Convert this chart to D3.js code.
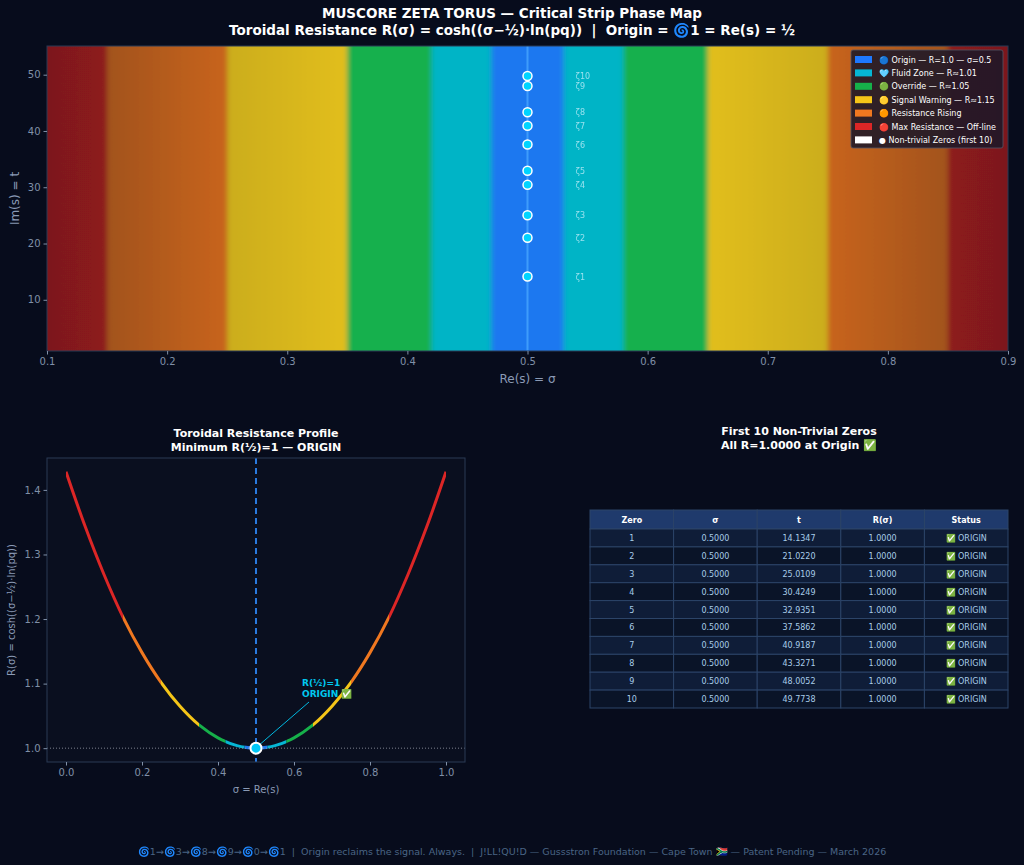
<!DOCTYPE html>
<html>
<head>
<meta charset="utf-8">
<script src="https://cdn.jsdelivr.net/npm/d3@7"></script>
<style>
  html, body { margin: 0; padding: 0; background: #070c1c; }
  svg { display: block; font-family: "DejaVu Sans", sans-serif; }
  text { white-space: pre; }
</style>
</head>
<body>
<svg id="chart" width="1024" height="865"></svg>
<script>
// ---- data ----
const bandEdges = [0.10, 0.15, 0.25, 0.35, 0.42, 0.47, 0.53, 0.58, 0.65, 0.75, 0.85, 0.90];
const bandLeftColors  = ["#7c191c", "#a2531a", "#cbad1a", "#14b04e", "#06b4c6", "#1e78f0", "#06b4c6", "#14b04e", "#e2be1a", "#c8641e", "#8e1a1e"];
const bandRightColors = ["#8e1a1e", "#c8641e", "#e2be1a", "#14b04e", "#06b4c6", "#1e78f0", "#06b4c6", "#14b04e", "#cbad1a", "#a2531a", "#7c191c"];

const zeroIds = [1, 2, 3, 4, 5, 6, 7, 8, 9, 10];
const zeroT = [14.1347, 21.0220, 25.0109, 30.4249, 32.9351, 37.5862, 40.9187, 43.3271, 48.0052, 49.7738];

const legendLabels = [
  "🔵 Origin — R=1.0 — σ=0.5",
  "🩵 Fluid Zone — R≈1.01",
  "🟢 Override — R≈1.05",
  "🟡 Signal Warning — R≈1.15",
  "🟠 Resistance Rising",
  "🔴 Max Resistance — Off-line",
  "● Non-trivial Zeros (first 10)"
];
const legendColors = ["#1e78ff", "#06b6d4", "#16b04a", "#f5c518", "#f07820", "#dc2626", "#ffffff"];

const profileSigma = [0, 0.05, 0.10, 0.15, 0.20, 0.25, 0.30, 0.35, 0.40, 0.45, 0.50,
                      0.55, 0.60, 0.65, 0.70, 0.75, 0.80, 0.85, 0.90, 0.95, 1.00];
const profileR = [1.428, 1.344, 1.269, 1.203, 1.148, 1.102, 1.065, 1.036, 1.016, 1.004, 1.000,
                  1.004, 1.016, 1.036, 1.065, 1.102, 1.148, 1.203, 1.269, 1.344, 1.428];
const curveEdges = [0, 0.15, 0.25, 0.35, 0.42, 0.47, 0.53, 0.58, 0.65, 0.75, 0.85, 1.0];
const curveColors = ["#dc2626", "#f07820", "#f5c518", "#16b04a", "#06b6d4", "#1e78f0",
                     "#06b6d4", "#16b04a", "#f5c518", "#f07820", "#dc2626"];

const tableHeader = ["Zero", "σ", "t", "R(σ)", "Status"];
const tableSigma = "0.5000";
const tableR = "1.0000";
const tableStatus = "✅ ORIGIN";

const xTicksMain = [0.1, 0.2, 0.3, 0.4, 0.5, 0.6, 0.7, 0.8, 0.9];
const yTicksMain = [10, 20, 30, 40, 50];
const xTicksProf = [0, 0.2, 0.4, 0.6, 0.8, 1.0];
const yTicksProf = [1.0, 1.1, 1.2, 1.3, 1.4];

// ---- setup ----
const svg = d3.select("#chart");
const defs = svg.append("defs");
const tickColor = "#8090a8";
const spineColor = "#2a3a55";
const labelColor = "#8a9ab5";

svg.append("rect").attr("width", 1024).attr("height", 865).attr("fill", "#070c1c");

// titles
svg.append("text").attr("x", 512).attr("y", 18).attr("text-anchor", "middle")
  .attr("fill", "#ffffff").attr("font-size", 13.5).attr("font-weight", "bold")
  .text("MUSCORE ZETA TORUS — Critical Strip Phase Map");
svg.append("text").attr("x", 512).attr("y", 35).attr("text-anchor", "middle")
  .attr("fill", "#ffffff").attr("font-size", 13.5).attr("font-weight", "bold")
  .text("Toroidal Resistance R(σ) = cosh((σ−½)·ln(pq))  |  Origin = 🌀1 = Re(s) = ½");

// ---- main heatmap ----
const M = {left: 47, right: 1008, top: 46, bottom: 351};
const x = d3.scaleLinear().domain([0.1, 0.9]).range([M.left, M.right]);
const y = d3.scaleLinear().domain([0.9, 55.1]).range([M.bottom, M.top]);

defs.append("clipPath").attr("id", "mainClip")
  .append("rect").attr("x", M.left).attr("y", M.top)
  .attr("width", M.right - M.left).attr("height", M.bottom - M.top);

const blur = defs.append("filter").attr("id", "soft")
  .attr("filterUnits", "userSpaceOnUse")
  .attr("x", 0).attr("y", 0).attr("width", 1024).attr("height", 865);
blur.append("feGaussianBlur").attr("stdDeviation", "2.5 0");

const bands = d3.range(bandLeftColors.length).map(i => ({
  s0: bandEdges[i], s1: bandEdges[i + 1], c0: bandLeftColors[i], c1: bandRightColors[i]
}));

bands.forEach((b, i) => {
  const g = defs.append("linearGradient").attr("id", "band" + i)
    .attr("gradientUnits", "userSpaceOnUse")
    .attr("x1", x(b.s0)).attr("x2", x(b.s1)).attr("y1", 0).attr("y2", 0);
  g.append("stop").attr("offset", 0).attr("stop-color", b.c0);
  g.append("stop").attr("offset", 1).attr("stop-color", b.c1);
});

const heat = svg.append("g").attr("clip-path", "url(#mainClip)")
  .append("g").attr("filter", "url(#soft)");
heat.selectAll("rect").data(bands).join("rect")
  .attr("x", (d, i) => i === 0 ? x(d.s0) - 12 : x(d.s0))
  .attr("width", (d, i) => (i === 0 || i === bands.length - 1 ? 12 : 0) + x(d.s1) - x(d.s0) + 0.5)
  .attr("y", M.top - 5).attr("height", M.bottom - M.top + 10)
  .attr("fill", (d, i) => "url(#band" + i + ")");

// critical line
svg.append("line").attr("x1", x(0.5)).attr("x2", x(0.5))
  .attr("y1", M.top).attr("y2", M.bottom)
  .attr("stroke", "#4aa8ff").attr("stroke-width", 2).attr("opacity", 0.75);

// zeros
svg.append("g").selectAll("circle").data(zeroT).join("circle")
  .attr("cx", x(0.5)).attr("cy", d => y(d)).attr("r", 4.5)
  .attr("fill", "#00d4ff").attr("stroke", "#ffffff").attr("stroke-width", 1.5);
svg.append("g").selectAll("text").data(zeroT).join("text")
  .attr("x", x(0.54)).attr("y", d => y(d) + 3)
  .attr("fill", "#d8f4ff").attr("opacity", 0.7).attr("font-size", 8)
  .text((d, i) => "ζ" + zeroIds[i]);

// frame
svg.append("rect").attr("x", M.left).attr("y", M.top)
  .attr("width", M.right - M.left).attr("height", M.bottom - M.top)
  .attr("fill", "none").attr("stroke", spineColor).attr("stroke-width", 1);

function styleAxis(g) {
  g.select(".domain").remove();
  g.selectAll(".tick line").attr("stroke", tickColor);
  g.selectAll(".tick text").attr("fill", tickColor).attr("font-size", 10)
    .attr("font-family", "DejaVu Sans");
}

svg.append("g").attr("transform", `translate(0,${M.bottom})`)
  .call(d3.axisBottom(x).tickValues(xTicksMain).tickFormat(d3.format(".1f")).tickSize(3.5).tickPadding(3))
  .call(styleAxis);
svg.append("g").attr("transform", `translate(${M.left},0)`)
  .call(d3.axisLeft(y).tickValues(yTicksMain).tickSize(3.5).tickPadding(3))
  .call(styleAxis);

svg.append("text").attr("x", (M.left + M.right) / 2).attr("y", 383).attr("text-anchor", "middle")
  .attr("fill", labelColor).attr("font-size", 12).text("Re(s) = σ");
svg.append("text").attr("transform", `translate(19,${(M.top + M.bottom) / 2}) rotate(-90)`)
  .attr("text-anchor", "middle").attr("fill", labelColor).attr("font-size", 12).text("Im(s) = t");

// legend
const L = svg.append("g").attr("transform", "translate(851,50)");
L.append("rect").attr("width", 152).attr("height", 98).attr("rx", 2)
  .attr("fill", "#1c1828").attr("fill-opacity", 0.88).attr("stroke", "#555566").attr("stroke-width", 0.8);
legendLabels.forEach((lab, i) => {
  const yy = 9.5 + i * 13.4;
  L.append("rect").attr("x", 4).attr("y", yy - 3.5).attr("width", 17).attr("height", 7)
    .attr("fill", legendColors[i]);
  L.append("text").attr("x", 28).attr("y", yy + 3).attr("fill", "#ffffff")
    .attr("font-size", 8).text(lab);
});

// ---- profile plot ----
const P = {left: 47, right: 465, top: 458, bottom: 762};
const px = d3.scaleLinear().domain([-0.05, 1.05]).range([P.left, P.right]);
const py = d3.scaleLinear().domain([0.9786, 1.4494]).range([P.bottom, P.top]);

svg.append("text").attr("x", 256).attr("y", 437).attr("text-anchor", "middle")
  .attr("fill", "#ffffff").attr("font-size", 11).attr("font-weight", "bold")
  .text("Toroidal Resistance Profile");
svg.append("text").attr("x", 256).attr("y", 451).attr("text-anchor", "middle")
  .attr("fill", "#ffffff").attr("font-size", 11).attr("font-weight", "bold")
  .text("Minimum R(½)=1 — ORIGIN");

svg.append("rect").attr("x", P.left).attr("y", P.top)
  .attr("width", P.right - P.left).attr("height", P.bottom - P.top)
  .attr("fill", "#0a0f1f");

const profData = profileSigma.map((s, i) => [s, profileR[i]]);
const line = d3.line().x(d => px(d[0])).y(d => py(d[1])).curve(d3.curveCatmullRom.alpha(0.5));

curveColors.forEach((c, i) => {
  defs.append("clipPath").attr("id", "seg" + i)
    .append("rect").attr("x", px(curveEdges[i])).attr("y", P.top - 20)
    .attr("width", px(curveEdges[i + 1]) - px(curveEdges[i])).attr("height", P.bottom - P.top + 40);
  svg.append("path").datum(profData).attr("d", line)
    .attr("clip-path", `url(#seg${i})`)
    .attr("fill", "none").attr("stroke", c).attr("stroke-width", 3);
});

// reference lines
svg.append("line").attr("x1", P.left).attr("x2", P.right).attr("y1", py(1)).attr("y2", py(1))
  .attr("stroke", "#9aa0aa").attr("stroke-width", 0.8).attr("stroke-dasharray", "1,2");
svg.append("line").attr("x1", px(0.5)).attr("x2", px(0.5)).attr("y1", P.top).attr("y2", P.bottom)
  .attr("stroke", "#2a7ae0").attr("stroke-width", 2).attr("stroke-dasharray", "6,4");

// annotation
svg.append("line").attr("x1", px(0.5) + 3).attr("y1", py(1) - 3).attr("x2", 309).attr("y2", 702)
  .attr("stroke", "#00b8e0").attr("stroke-width", 1);
svg.append("text").attr("x", 302).attr("y", 686).attr("fill", "#00c8f0")
  .attr("font-size", 9).attr("font-weight", "bold").text("R(½)=1");
svg.append("text").attr("x", 302).attr("y", 697).attr("fill", "#00c8f0")
  .attr("font-size", 9).attr("font-weight", "bold").text("ORIGIN ✅");

svg.append("circle").attr("cx", px(0.5)).attr("cy", py(1)).attr("r", 5.5)
  .attr("fill", "#00c8f8").attr("stroke", "#ffffff").attr("stroke-width", 2);

svg.append("rect").attr("x", P.left).attr("y", P.top)
  .attr("width", P.right - P.left).attr("height", P.bottom - P.top)
  .attr("fill", "none").attr("stroke", spineColor).attr("stroke-width", 1);

svg.append("g").attr("transform", `translate(0,${P.bottom})`)
  .call(d3.axisBottom(px).tickValues(xTicksProf).tickFormat(d3.format(".1f")).tickSize(3.5).tickPadding(3))
  .call(styleAxis);
svg.append("g").attr("transform", `translate(${P.left},0)`)
  .call(d3.axisLeft(py).tickValues(yTicksProf).tickFormat(d3.format(".1f")).tickSize(3.5).tickPadding(3))
  .call(styleAxis);

svg.append("text").attr("x", (P.left + P.right) / 2).attr("y", 793).attr("text-anchor", "middle")
  .attr("fill", labelColor).attr("font-size", 10).text("σ = Re(s)");
svg.append("text").attr("transform", `translate(15,${(P.top + P.bottom) / 2}) rotate(-90)`)
  .attr("text-anchor", "middle").attr("fill", labelColor).attr("font-size", 10)
  .text("R(σ) = cosh((σ−½)·ln(pq))");

// ---- table ----
svg.append("text").attr("x", 799).attr("y", 435).attr("text-anchor", "middle")
  .attr("fill", "#ffffff").attr("font-size", 11).attr("font-weight", "bold")
  .text("First 10 Non-Trivial Zeros");
svg.append("text").attr("x", 799).attr("y", 449).attr("text-anchor", "middle")
  .attr("fill", "#ffffff").attr("font-size", 11).attr("font-weight", "bold")
  .text("All R=1.0000 at Origin ✅");

const T = {left: 590, right: 1008, top: 510, headH: 19, rowH: 17.9};
const col = d3.scaleBand().domain(d3.range(tableHeader.length)).range([T.left, T.right]);
const rows = zeroIds.map((id, i) => [String(id), tableSigma, zeroT[i].toFixed(4), tableR, tableStatus]);

const tg = svg.append("g");
tableHeader.forEach((h, j) => {
  tg.append("rect").attr("x", col(j)).attr("y", T.top).attr("width", col.bandwidth()).attr("height", T.headH)
    .attr("fill", "#1f3a6c").attr("stroke", "#2c4468").attr("stroke-width", 1);
  tg.append("text").attr("x", col(j) + col.bandwidth() / 2).attr("y", T.top + T.headH / 2 + 3)
    .attr("text-anchor", "middle").attr("fill", "#ffffff").attr("font-size", 8)
    .attr("font-weight", "bold").text(h);
});
rows.forEach((r, i) => {
  const yy = T.top + T.headH + i * T.rowH;
  r.forEach((v, j) => {
    tg.append("rect").attr("x", col(j)).attr("y", yy).attr("width", col.bandwidth()).attr("height", T.rowH)
      .attr("fill", i % 2 === 0 ? "#0f1d38" : "#0a1428").attr("stroke", "#2c4468").attr("stroke-width", 1);
    tg.append("text").attr("x", col(j) + col.bandwidth() / 2).attr("y", yy + T.rowH / 2 + 3)
      .attr("text-anchor", "middle").attr("fill", "#a8cce8").attr("font-size", 8).text(v);
  });
});

// footer
svg.append("text").attr("x", 512).attr("y", 855).attr("text-anchor", "middle")
  .attr("fill", "#4a6585").attr("font-size", 9.5)
  .text("🌀1→🌀3→🌀8→🌀9→🌀0→🌀1  |  Origin reclaims the signal. Always.  |  J!LL!QU!D — Gussstron Foundation — Cape Town 🇿🇦 — Patent Pending — March 2026");
</script>
</body>
</html>
